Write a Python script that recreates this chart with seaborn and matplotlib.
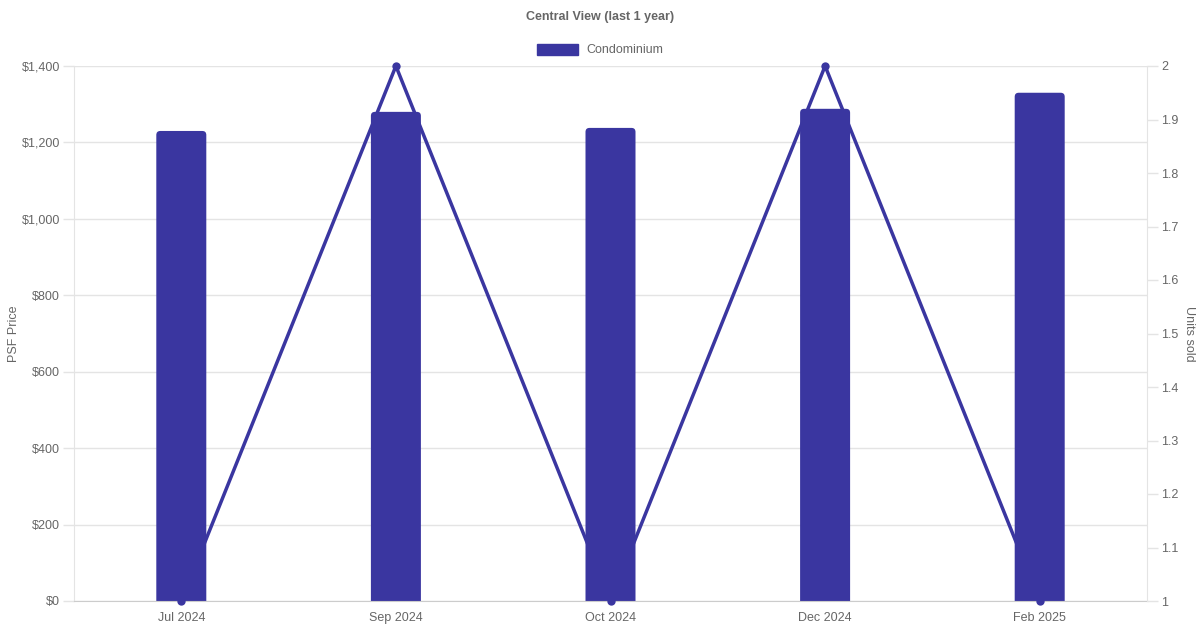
import matplotlib
matplotlib.use("Agg")
import matplotlib.pyplot as plt
import pandas as pd
import seaborn as sns
from matplotlib.patches import Patch, FancyBboxPatch
from matplotlib.ticker import FuncFormatter

# datos
months = ["Jul 2024", "Sep 2024", "Oct 2024", "Dec 2024", "Feb 2025"]
psf_price = [1230, 1280, 1238, 1288, 1330]
units_sold = [1, 2, 1, 2, 1]

color = "#3a36a0"
txt = "#666666"
grid = "#e4e4e4"

df = pd.DataFrame({"month": months, "psf": psf_price, "units": units_sold})

sns.set_style("white")
plt.rcParams["font.family"] = ["Liberation Sans", "DejaVu Sans"]

fig = plt.figure(figsize=(12, 6.3), dpi=100)
ax = fig.add_axes([74 / 1200, 29 / 630, 1073 / 1200, 535 / 630])

sns.barplot(data=df, x="month", y="psf", color=color, width=0.233,
            saturation=1, ax=ax, zorder=2)
ax.set_xlim(-0.5, 4.5)
ax.set_ylim(0, 1400)

# esquinas redondeadas arriba (como chart.js)
aspect = (1400 / 535) / (5 / 1073)
for p in list(ax.patches):
    x, w, h = p.get_x(), p.get_width(), p.get_height()
    rb = FancyBboxPatch((x, -20), w, h + 20,
                        boxstyle=f"round,pad=0,rounding_size={4 * 5 / 1073}",
                        mutation_aspect=aspect, facecolor=color, edgecolor="none",
                        zorder=2)
    p.remove()
    ax.add_patch(rb)

ax.set_yticks(range(0, 1401, 200))
ax.yaxis.set_major_formatter(FuncFormatter(lambda v, p: f"${v:,.0f}"))
ax.grid(axis="y", color=grid, linewidth=1, zorder=0)
ax.set_axisbelow(True)
ax.set_xlabel("")
ax.set_ylabel("PSF Price", color=txt, fontsize=9)
ax.yaxis.set_label_coords(-54 / 1073, 0.5)
ax.tick_params(axis="y", colors=grid, labelcolor=txt, labelsize=9, length=8, width=1, pad=2)
ax.tick_params(axis="x", colors=grid, labelcolor=txt, labelsize=9, length=0, pad=8)
for s in ["top", "right"]:
    ax.spines[s].set_visible(False)
ax.spines["left"].set_color(grid)
ax.spines["bottom"].set_color("#cccccc")

ax2 = ax.twinx()
sns.lineplot(data=df, x="month", y="units", color=color, linewidth=2.5,
             marker="o", markersize=6, markeredgewidth=0, ax=ax2,
             clip_on=False, zorder=3)
ax2.set_ylim(1, 2)
ax2.set_yticks([1 + i / 10 for i in range(11)])
ax2.yaxis.set_major_formatter(FuncFormatter(lambda v, p: f"{v:g}"))
ax2.set_ylabel("Units sold", color=txt, fontsize=9, rotation=270)
ax2.yaxis.set_label_coords(1 + 48 / 1073, 0.5)
ax2.tick_params(axis="y", colors=grid, labelcolor=txt, labelsize=9, length=8, width=1, pad=2)
for s in ["top", "left", "bottom"]:
    ax2.spines[s].set_visible(False)
ax2.spines["right"].set_color(grid)
ax2.set_xlabel("")

fig.text(0.5, 1 - 17 / 630, "Central View (last 1 year)", ha="center", va="center",
         fontsize=9, fontweight="bold", color=txt)
fig.legend(handles=[Patch(facecolor=color, edgecolor=color)], labels=["Condominium"],
           loc="center", bbox_to_anchor=(0.5, 1 - 50 / 630), frameon=False,
           handlelength=3.3, handleheight=1.0, fontsize=9, labelcolor=txt,
           handletextpad=0.6)

fig.savefig("out.png", dpi=100)
